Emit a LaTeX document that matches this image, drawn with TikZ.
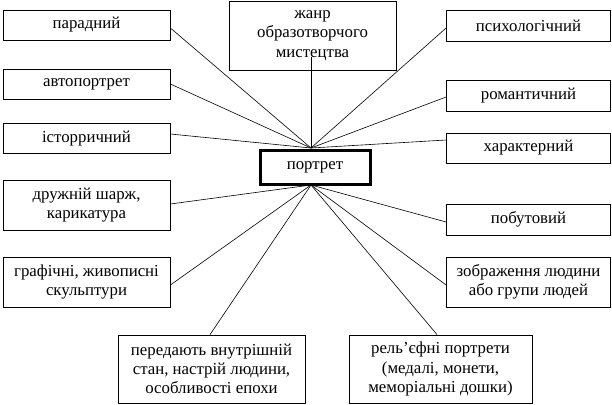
\documentclass[tikz,border=0pt]{standalone}
\usepackage{fontspec}
\setmainfont{Liberation Serif}
\usetikzlibrary{positioning}

\begin{document}
\begin{tikzpicture}[x=1pt,y=-1pt,
  box/.style={draw,line width=0.8pt,align=center,inner sep=0pt,
    font=\fontsize{16.8}{19.3}\selectfont},
  link/.style={line width=0.6pt}]
  \useasboundingbox (0,0) rectangle (612,404);
  % left column
  \node[box,minimum width=167pt,minimum height=30pt] (paradnyi) at (86.5,25) {парадний};
  \node[box,minimum width=167pt,minimum height=30pt] (avtoportret) at (86.5,84) {автопортрет};
  \node[box,minimum width=167pt,minimum height=30pt] (istorychnyi) at (86.5,138.5) {історричний};
  \node[box,minimum width=167pt,minimum height=50pt] (sharzh) at (86.5,205) {дружній шарж,\\карикатура};
  \node[box,minimum width=167pt,minimum height=50pt] (hrafichni) at (86.5,282) {графічні, живописні\\скульптури};
  % bottom row
  \node[box,minimum width=187pt,minimum height=68pt] (peredaiut) at (211.5,369) {передають внутрішній\\стан, настрій людини,\\особливості епохи};
  \node[box,minimum width=183pt,minimum height=68pt] (reliefni) at (440.5,369) {рель’єфні портрети\\(медалі, монети,\\меморіальні дошки)};
  % right column
  \node[box,minimum width=164pt,minimum height=31pt] (psykholohichnyi) at (528.5,25.5) {психологічний};
  \node[box,minimum width=164pt,minimum height=31pt] (romantychnyi) at (528.5,95.5) {романтичний};
  \node[box,minimum width=164pt,minimum height=30pt] (kharakternyi) at (528.5,148) {характерний};
  \node[box,minimum width=164pt,minimum height=31pt] (pobutovyi) at (528.5,219.5) {побутовий};
  \node[box,minimum width=164pt,minimum height=50pt] (zobrazhennia) at (528.5,282) {зображення людини\\або групи людей};
  % top and centre
  \node[box,minimum width=167pt,minimum height=69pt] (zhanr) at (312.5,35.5) {жанр\\образотворчого\\мистецтва};
  \node[box,line width=3pt,minimum width=110pt,minimum height=34pt] (portret) at (315,167) {портрет};
  \coordinate (top) at (311,148);
  \coordinate (bot) at (311,185);
  \coordinate (zhanrend) at (311,57);
  % upper links
  \draw[link] ([yshift=-3pt]paradnyi.east) -- (top);
  \draw[link] (avtoportret.east) -- (top);
  \draw[link] ([yshift=4.5pt]istorychnyi.east) -- (top);
  \draw[link] (zhanrend) -- (top);
  \draw[link] ([yshift=-2.5pt]psykholohichnyi.west) -- (top);
  \draw[link] ([yshift=-1.5pt]romantychnyi.west) -- (top);
  \draw[link] ([yshift=8pt]kharakternyi.west) -- (top);
  % lower links
  \draw[link] ([yshift=1pt]sharzh.east) -- (bot);
  \draw[link] ([yshift=-3pt]hrafichni.east) -- (bot);
  \draw[link] ([xshift=-1.5pt]peredaiut.north) -- (bot);
  \draw[link] ([xshift=-3.5pt]reliefni.north) -- (bot);
  \draw[link] ([yshift=-3pt]zobrazhennia.west) -- (bot);
  \draw[link] ([yshift=-2.5pt]pobutovyi.west) -- (bot);
\end{tikzpicture}
\end{document}
